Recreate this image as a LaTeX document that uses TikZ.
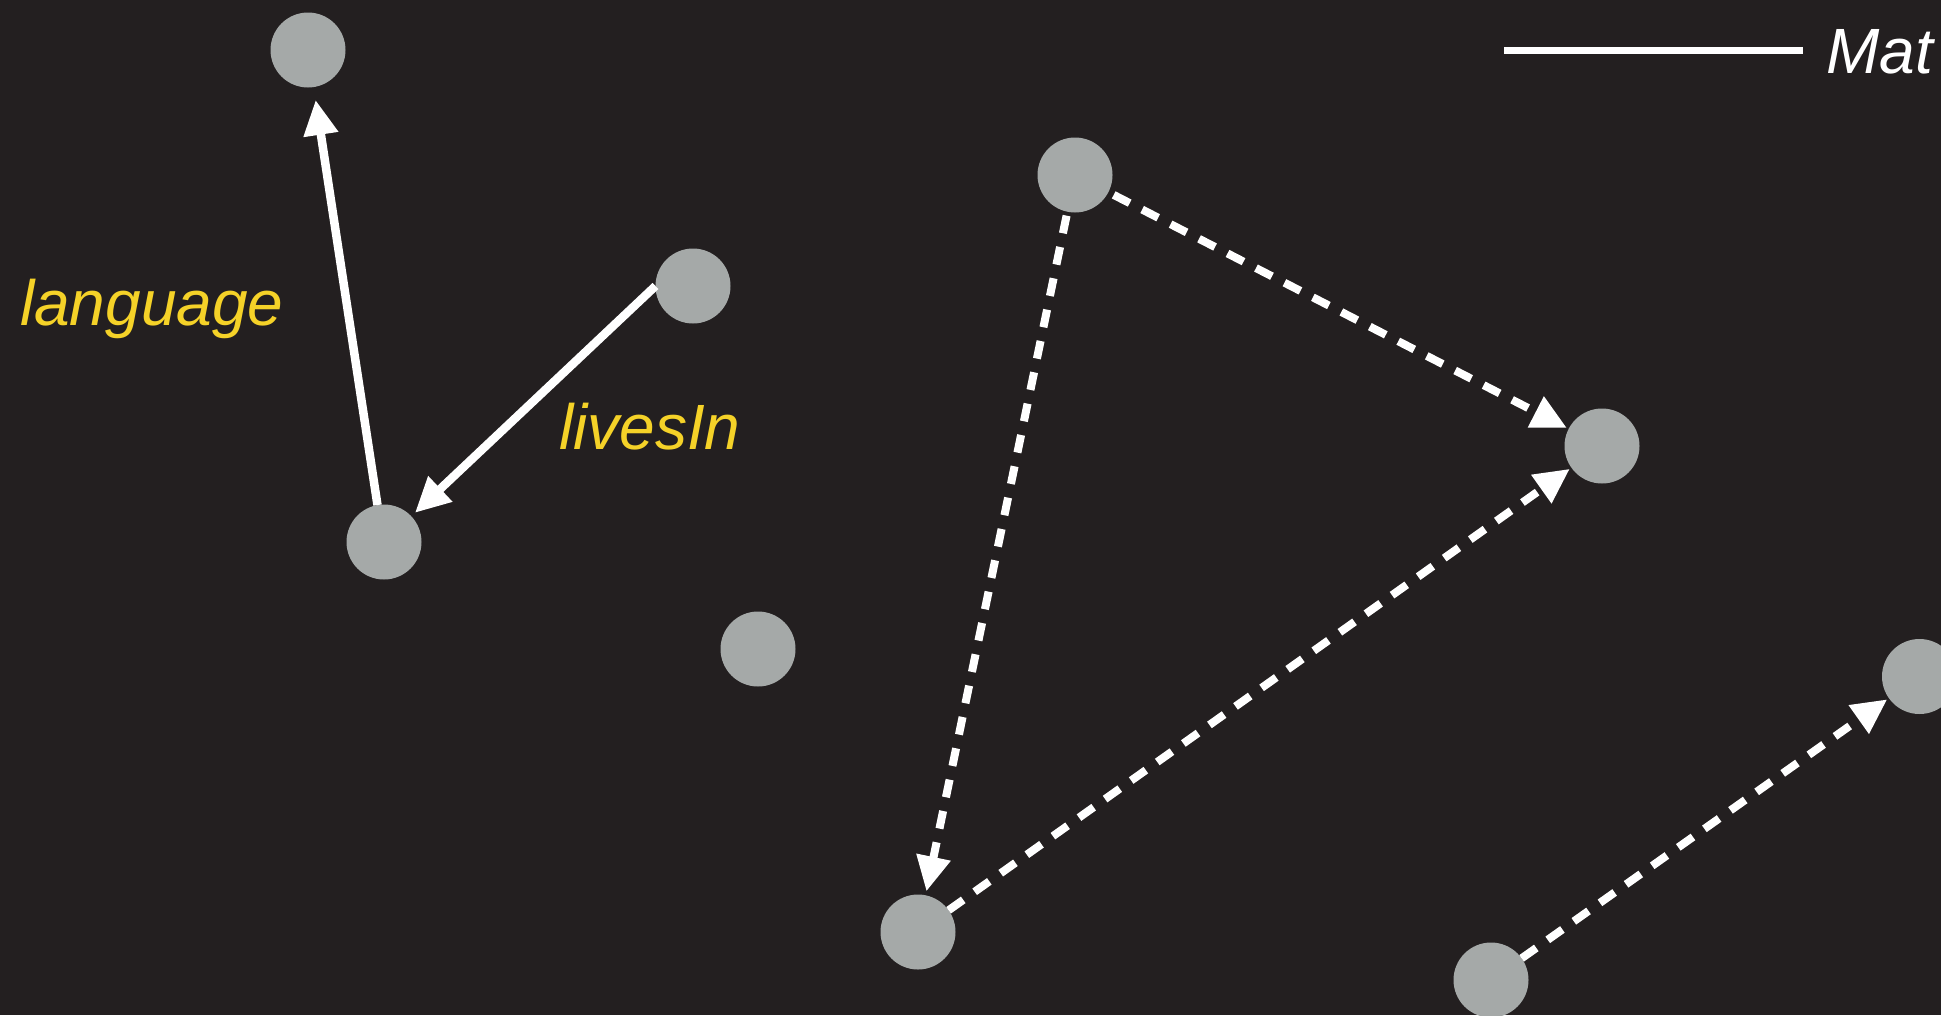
\documentclass[tikz,border=0pt]{standalone}
\usepackage{fontspec}
\setmainfont{Liberation Sans}
\usetikzlibrary{arrows.meta}
\definecolor{bgdark}{RGB}{35,31,32}
\definecolor{nodegrey}{RGB}{165,169,168}
\definecolor{labelyellow}{RGB}{245,210,40}
\begin{document}
\begin{tikzpicture}[x=1pt,y=-1pt,
  ent/.style={circle,fill=nodegrey,minimum size=75pt,inner sep=0pt,outer sep=0pt},
  rel/.style={draw=white,line width=8.5pt,-{Triangle[length=35pt,width=33pt]}},
  inferred/.style={rel,line width=8pt,dash pattern=on 18pt off 14pt},
  lbl/.style={text=labelyellow,font=\fontsize{64}{64}\selectfont\itshape,anchor=base west,inner sep=0pt},
  legendtext/.style={text=white,font=\fontsize{64}{64}\selectfont\itshape,anchor=base west,inner sep=0pt}]
\fill[bgdark] (0,0) rectangle (1941,1015);
\useasboundingbox (0,0) rectangle (1941,1015);
\clip (0,0) rectangle (1941,1015);

\node[ent] (A) at (308,50) {};
\node[ent] (B) at (384,542) {};
\node[ent] (C) at (693,286) {};
\node[ent] (D) at (758,649) {};
\node[ent] (E) at (1075,175) {};
\node[ent] (F) at (1602,446) {};
\node[ent] (G) at (918,932) {};
\node[ent] (H) at (1491,980) {};
\node[ent] (I) at (1919.5,676.5) {};

\draw[rel,shorten >=13pt] (B.100) -- (A);
\draw[rel,shorten >=5pt] (C.west) -- (B);
\draw[inferred,shorten >=2pt,shorten <=6pt] (E) -- (F);
\draw[inferred,shorten >=4pt,shorten <=4pt] (E) -- (G);
\draw[inferred,shorten >=2pt] (G) -- (F);
\draw[inferred,shorten >=2pt] (H) -- (I);

\node[lbl] (langlbl) at (20,325) {language};
\node[lbl] (liveslbl) at (559,449) {livesIn};

\coordinate (leg1) at (1504,50);
\coordinate (leg2) at (1803,50);
\draw[white,line width=7pt] (leg1) -- (leg2);
\node[legendtext] (legtxt) at (1826,73) {Mat};
\end{tikzpicture}
\end{document}
